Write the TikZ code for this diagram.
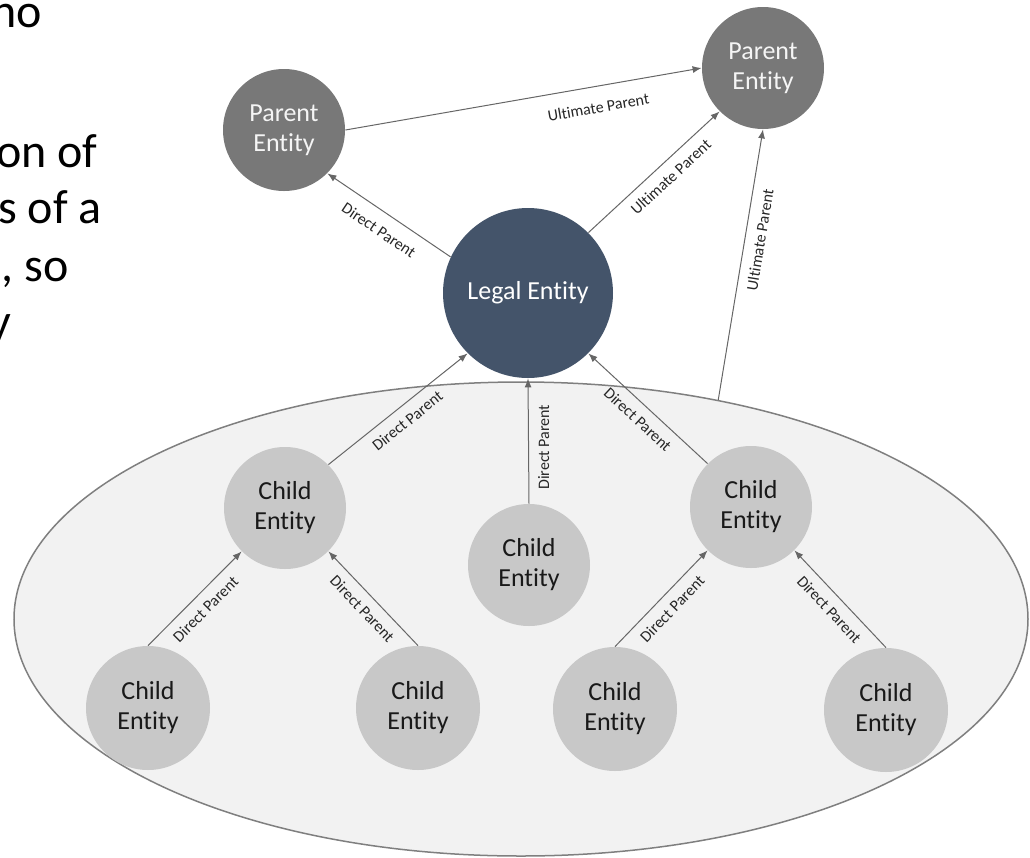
\documentclass[tikz,border=0pt]{standalone}
\usepackage{fontspec}
\setmainfont{Carlito}[Ligatures=NoCommon]
\usetikzlibrary{shapes.geometric,arrows.meta}
\definecolor{parentgray}{HTML}{787878}
\definecolor{legalblue}{HTML}{44546A}
\definecolor{childgray}{HTML}{C8C8C8}
\definecolor{groupfill}{HTML}{F2F2F2}
\definecolor{groupline}{HTML}{7F7F7F}
\definecolor{linegray}{HTML}{666666}

\begin{document}
\begin{tikzpicture}[x=0.5pt,y=-0.5pt,
    ent/.style={circle,inner sep=0pt,minimum size=61pt,align=center,font=\fontsize{13}{15}\selectfont},
    par/.style={ent,fill=parentgray,text=white!92!gray},
    leg/.style={ent,minimum size=85pt,fill=legalblue,text=white},
    chi/.style={ent,fill=childgray,text=black!90},
    rel/.style={draw=linegray,line width=0.5pt,-{Latex[length=4.5pt,width=3.5pt]}},
    lab/.style={font=\fontsize{8}{9}\selectfont,text=black!85,sloped,below,inner sep=4.5pt},
    vlab/.style={font=\fontsize{8}{9}\selectfont,text=black!85,rotate=90,anchor=north,inner sep=4.5pt},
    cut/.style={anchor=base east,inner sep=0pt,font=\fontsize{24}{28}\selectfont}]
      \useasboundingbox (0,0) rectangle (1030,858);
      % text of the slide, cut at the left edge
      \node[cut] (t1) at (42,27) {no};
      \node[cut] (t2) at (98,167) {on of};
      \node[cut] (t3) at (102,223) {ts of a};
      \node[cut] (t4) at (69,281) {, so};
      \node[cut] (t5) at (12,337) {y};
      % group of children
      \node[ellipse,draw=groupline,fill=groupfill,line width=0.75pt,inner sep=0pt,
        minimum width=507pt,minimum height=237pt] (grp) at (521,619) {};
      \node[par] (pl) at (284,130) {Parent\\Entity};
      \node[par] (pr) at (763,68) {Parent\\Entity};
      \node[leg] (le) at (528,293) {Legal Entity};
      \node[chi] (cl) at (285,508) {Child\\Entity};
      \node[chi] (cm) at (529,565) {Child\\Entity};
      \node[chi] (cr) at (751,507) {Child\\Entity};
      \foreach \n/\x/\y in {b1/148/708,b2/418/708,b3/615/709,b4/886/710}{
        \node[chi,minimum size=62pt] (\n) at (\x,\y) {Child\\Entity};
      }
      \draw[rel] (le.155) -- node[lab,inner sep=6pt]{Direct Parent} (pl.-45);
      \draw[rel] (pl.east) -- node[lab,pos=0.7,inner sep=7.5pt]{Ultimate Parent} (pr.west);
      \draw[rel] (le.45) -- node[lab,pos=0.55]{Ultimate Parent} (pr.-135);
      \draw[rel] (grp.48) -- node[lab,pos=0.6]{Ultimate Parent} (pr.south);
      \draw[rel] (cl.45) -- node[lab]{Direct Parent} (le.-135);
      \draw[rel] (cm.north) -- node[vlab,pos=0.45]{Direct Parent} (le.south);
      \draw[rel] (cr.135) -- node[lab]{Direct Parent} (le.-45);
      \foreach \a/\b/\c in {b1/cl/-135,b2/cl/-45,b3/cr/-135,b4/cr/-45}{
        \draw[rel] (\a.north) -- node[lab]{Direct Parent} (\b.\c);
      }
    \end{tikzpicture}
\end{document}
